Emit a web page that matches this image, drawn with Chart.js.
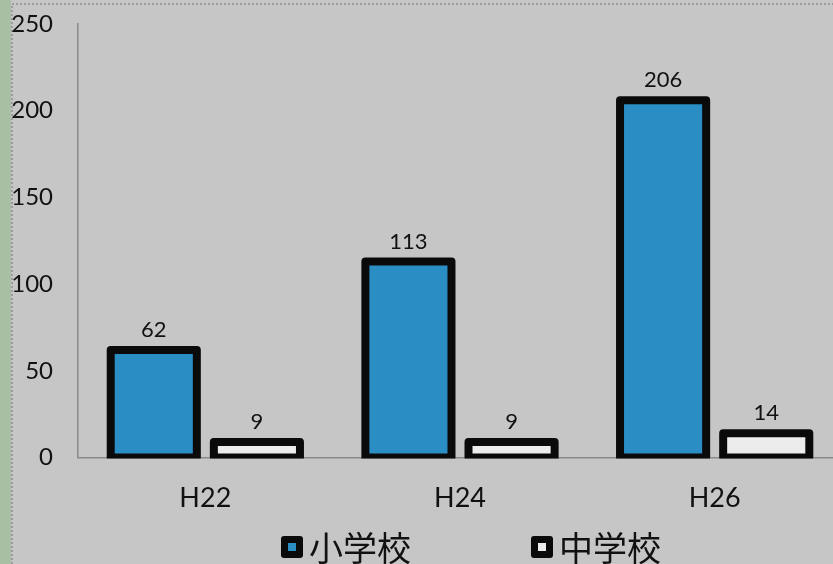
<!DOCTYPE html>
<html>
<head>
<meta charset="utf-8">
<script src="https://cdn.jsdelivr.net/npm/chart.js"></script>
<style>
  html, body { margin: 0; padding: 0; overflow: hidden; background: #c6c6c6; }
  canvas { display: block; }
</style>
</head>
<body>
<canvas id="chart1" width="842" height="564"></canvas>
<script>
// data
var years = ["H22", "H24", "H26"];
var elementary = [62, 113, 206];
var juniorHigh = [9, 9, 14];
var seriesNames = ["小学校", "中学校"];
var seriesFill = ["#2a8ec4", "#ececec"];

// background card
var cardPlugin = {
    id: "card",
    beforeDraw: function (chart) {
        var ctx = chart.ctx;
        ctx.save();
        ctx.fillStyle = "#c6c6c6";
        ctx.fillRect(0, 0, chart.width, chart.height);
        ctx.fillStyle = "#a9bfa3";
        ctx.fillRect(0, 0, 11, chart.height);
        ctx.strokeStyle = "#8f8f8f";
        ctx.lineWidth = 1.5;
        ctx.setLineDash([2, 2]);
        ctx.beginPath();
        ctx.moveTo(12, chart.height);
        ctx.lineTo(12, 4);
        ctx.lineTo(chart.width, 4);
        ctx.stroke();
        ctx.restore();
    }
};

// thick outlines centred on the bar edges, like the office chart
var barOutline = {
    id: "barOutline",
    afterDatasetsDraw: function (chart) {
        var ctx = chart.ctx, a = chart.chartArea;
        ctx.save();
        ctx.beginPath();
        ctx.rect(a.left, a.top - 20, a.right - a.left, a.bottom - a.top + 21);
        ctx.clip();
        ctx.strokeStyle = "#0a0a0a";
        ctx.lineWidth = 8;
        ctx.lineJoin = "round";
        chart.data.datasets.forEach(function (ds, i) {
            chart.getDatasetMeta(i).data.forEach(function (bar) {
                ctx.strokeRect(bar.x - bar.width / 2, bar.y, bar.width, bar.base - bar.y);
            });
        });
        ctx.restore();

        // value labels
        ctx.save();
        ctx.fillStyle = "#111";
        ctx.font = "22px Lato, 'Open Sans', sans-serif";
        ctx.textAlign = "center";
        ctx.textBaseline = "alphabetic";
        chart.data.datasets.forEach(function (ds, i) {
            chart.getDatasetMeta(i).data.forEach(function (bar, j) {
                ctx.fillText(ds.data[j], bar.x, bar.y - 13);
            });
        });
        ctx.restore();
    }
};

// legend drawn below the axis labels
var bottomLegend = {
    id: "bottomLegend",
    afterDraw: function (chart) {
        var ctx = chart.ctx, a = chart.chartArea;
        var font = "34px 'Noto Sans CJK JP', sans-serif";
        var box = 22, gap = 6, between = 120;
        ctx.save();
        ctx.font = font;
        var widths = seriesNames.map(function (n) { return ctx.measureText(n).width; });
        var total = 0;
        widths.forEach(function (w, i) { total += box + gap + w + (i ? between : 0); });
        var x = (a.left + a.right) / 2 + 11 - total / 2;
        var cy = chart.height - 17;
        seriesNames.forEach(function (name, i) {
            ctx.fillStyle = "#0a0a0a";
            ctx.beginPath();
            ctx.roundRect(x, cy - box / 2, box, box, 3);
            ctx.fill();
            ctx.fillStyle = seriesFill[i];
            ctx.fillRect(x + 7, cy - box / 2 + 7, box - 14, box - 14);
            ctx.fillStyle = "#111";
            ctx.textBaseline = "middle";
            ctx.textAlign = "left";
            ctx.fillText(name, x + box + gap, cy + 1);
            x += box + gap + widths[i] + between;
        });
        ctx.restore();
    }
};

new Chart(document.getElementById("chart1"), {
    type: "bar",
    data: {
        labels: years,
        datasets: [
            {
                label: seriesNames[0],
                data: elementary,
                backgroundColor: seriesFill[0],
                borderWidth: 0
            },
            {
                label: seriesNames[1],
                data: juniorHigh,
                backgroundColor: seriesFill[1],
                borderWidth: 0
            }
        ]
    },
    options: {
        responsive: false,
        animation: false,
        categoryPercentage: 0.81,
        barPercentage: 0.835,
        layout: { padding: { top: 24, left: 0, right: 0, bottom: 26 } },
        plugins: {
            tooltip: { enabled: false },
            legend: { display: false }
        },
        scales: {
            x: {
                grid: { display: false, drawTicks: false },
                border: { display: true, color: "#8a8a8a", width: 1.5 },
                ticks: {
                    color: "#111",
                    padding: 24,
                    font: { size: 27, family: "Lato, 'Open Sans', sans-serif" }
                }
            },
            y: {
                min: 0,
                max: 250,
                grid: { display: false, drawTicks: false },
                border: { display: true, color: "#8a8a8a", width: 1.5, dash: [3, 2] },
                ticks: {
                    stepSize: 50,
                    color: "#111",
                    padding: 25,
                    font: { size: 24, family: "Lato, 'Open Sans', sans-serif" }
                },
                afterFit: function (scale) {
                    scale.width = 78;
                    scale.paddingTop = 0;
                }
            }
        }
    },
    plugins: [cardPlugin, barOutline, bottomLegend]
});
</script>
</body>
</html>
